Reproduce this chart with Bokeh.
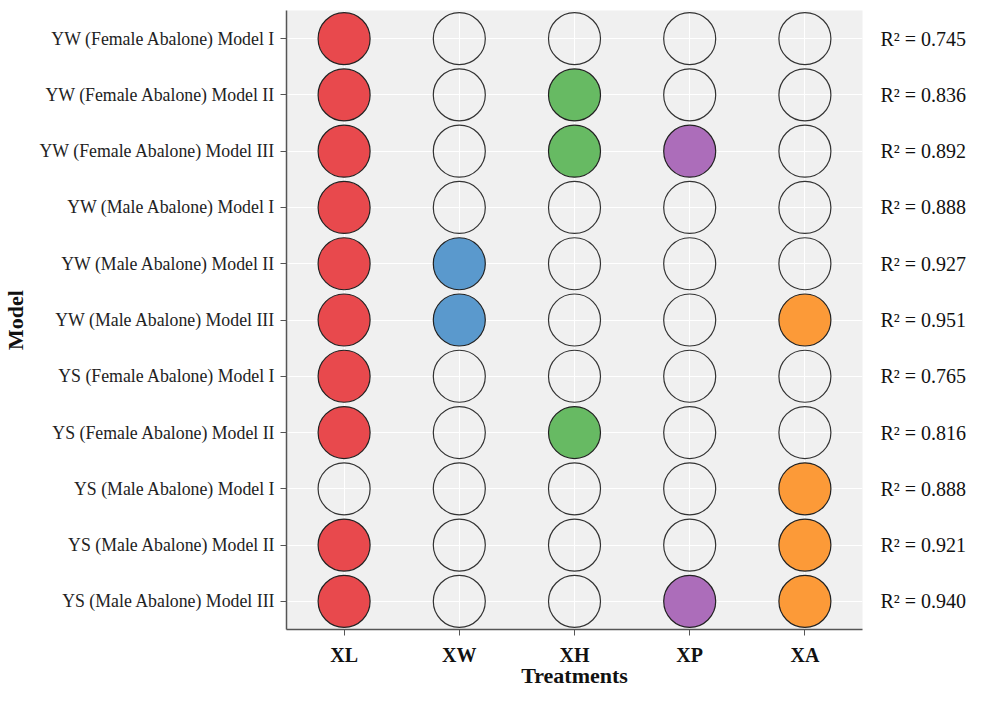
from bokeh.plotting import figure
from bokeh.models import (FactorRange, ColumnDataSource, Range1d, LinearAxis,
                          FixedTicker)
from bokeh.embed import file_html
from bokeh.resources import INLINE

models = [
    "YW (Female Abalone) Model I",
    "YW (Female Abalone) Model II",
    "YW (Female Abalone) Model III",
    "YW (Male Abalone) Model I",
    "YW (Male Abalone) Model II",
    "YW (Male Abalone) Model III",
    "YS (Female Abalone) Model I",
    "YS (Female Abalone) Model II",
    "YS (Male Abalone) Model I",
    "YS (Male Abalone) Model II",
    "YS (Male Abalone) Model III",
]
treatments = ["XL", "XW", "XH", "XP", "XA"]
r2_values = ["0.745", "0.836", "0.892", "0.888", "0.927", "0.951",
             "0.765", "0.816", "0.888", "0.921", "0.940"]
# 1 = variable selected in the model
selected = [
    [1, 0, 0, 0, 0],
    [1, 0, 1, 0, 0],
    [1, 0, 1, 1, 0],
    [1, 0, 0, 0, 0],
    [1, 1, 0, 0, 0],
    [1, 1, 0, 0, 1],
    [1, 0, 0, 0, 0],
    [1, 0, 1, 0, 0],
    [0, 0, 0, 0, 1],
    [1, 0, 0, 0, 1],
    [1, 0, 0, 1, 1],
]
treatment_colors = {"XL": "#E8494D", "XW": "#5A99CD", "XH": "#67BA63",
                    "XP": "#AC6DBA", "XA": "#FC9A38"}

FONT = "Liberation Serif"
n = len(models)
row_pos = [(n - 1 - i) + 0.5 for i in range(n)]  # first model on top

fx, fy, fc, ex, ey = [], [], [], [], []
for pos, row in zip(row_pos, selected):
    for t, s in zip(treatments, row):
        if s:
            fx.append(t); fy.append(pos); fc.append(treatment_colors[t])
        else:
            ex.append(t); ey.append(pos)

p = figure(width=969, height=690, output_backend="svg", toolbar_location=None,
           x_range=FactorRange(factors=treatments),
           y_range=Range1d(0, n),
           min_border_left=286, min_border_right=102,
           min_border_top=10, min_border_bottom=50)
p.x_range.range_padding = 0

p.background_fill_color = "#F0F0F0"
p.border_fill_color = "white"
p.outline_line_color = None

ticker = FixedTicker(ticks=row_pos, minor_ticks=[])
p.yaxis.ticker = ticker
p.ygrid.ticker = ticker
p.yaxis.major_label_overrides = {t: m for t, m in zip(row_pos, models)}

p.xgrid.grid_line_color = "white"
p.ygrid.grid_line_color = "white"
p.xgrid.grid_line_width = 1
p.ygrid.grid_line_width = 1

p.scatter(x=ex, y=ey, size=52, fill_color=None, line_color="#333333", line_width=1.2)
p.scatter(x="x", y="y", source=ColumnDataSource(dict(x=fx, y=fy, c=fc)),
          size=52, fill_color="c", line_color="#222222", line_width=1.2)

for ax in (p.xaxis[0], p.yaxis[0]):
    ax.axis_line_color = "#555555"
    ax.axis_line_width = 1.5
    ax.major_tick_line_color = "#555555"
    ax.major_tick_in = 0
    ax.major_tick_out = 6
    ax.minor_tick_line_color = None

p.xaxis.axis_label = "Treatments"
p.xaxis.axis_label_text_font = FONT
p.xaxis.axis_label_text_font_style = "bold"
p.xaxis.axis_label_text_font_size = "22px"
p.xaxis.axis_label_text_color = "#111111"
p.xaxis.axis_label_standoff = -6
p.xaxis.major_label_text_font = FONT
p.xaxis.major_label_text_font_style = "bold"
p.xaxis.major_label_text_font_size = "20px"
p.xaxis.major_label_text_color = "#111111"
p.xaxis.major_label_standoff = 8

p.yaxis.axis_label = "Model"
p.yaxis.axis_label_text_font = FONT
p.yaxis.axis_label_text_font_style = "bold"
p.yaxis.axis_label_text_font_size = "22px"
p.yaxis.axis_label_text_color = "#111111"
p.yaxis.axis_label_standoff = 8
p.yaxis.major_label_text_font = FONT
p.yaxis.major_label_text_font_style = "normal"
p.yaxis.major_label_text_font_size = "17.8px"
p.yaxis.major_label_text_color = "#222222"
p.yaxis.major_label_standoff = 5

right = LinearAxis(ticker=FixedTicker(ticks=row_pos, minor_ticks=[]),
                   major_label_overrides={t: "R\u00b2 = " + r for t, r in zip(row_pos, r2_values)})
right.axis_line_color = None
right.major_tick_line_color = None
right.minor_tick_line_color = None
right.major_label_text_font = FONT
right.major_label_text_font_size = "20px"
right.major_label_text_color = "#111111"
right.major_label_standoff = 12
p.add_layout(right, "right")

open("out.html", "w").write(file_html(p, INLINE))
